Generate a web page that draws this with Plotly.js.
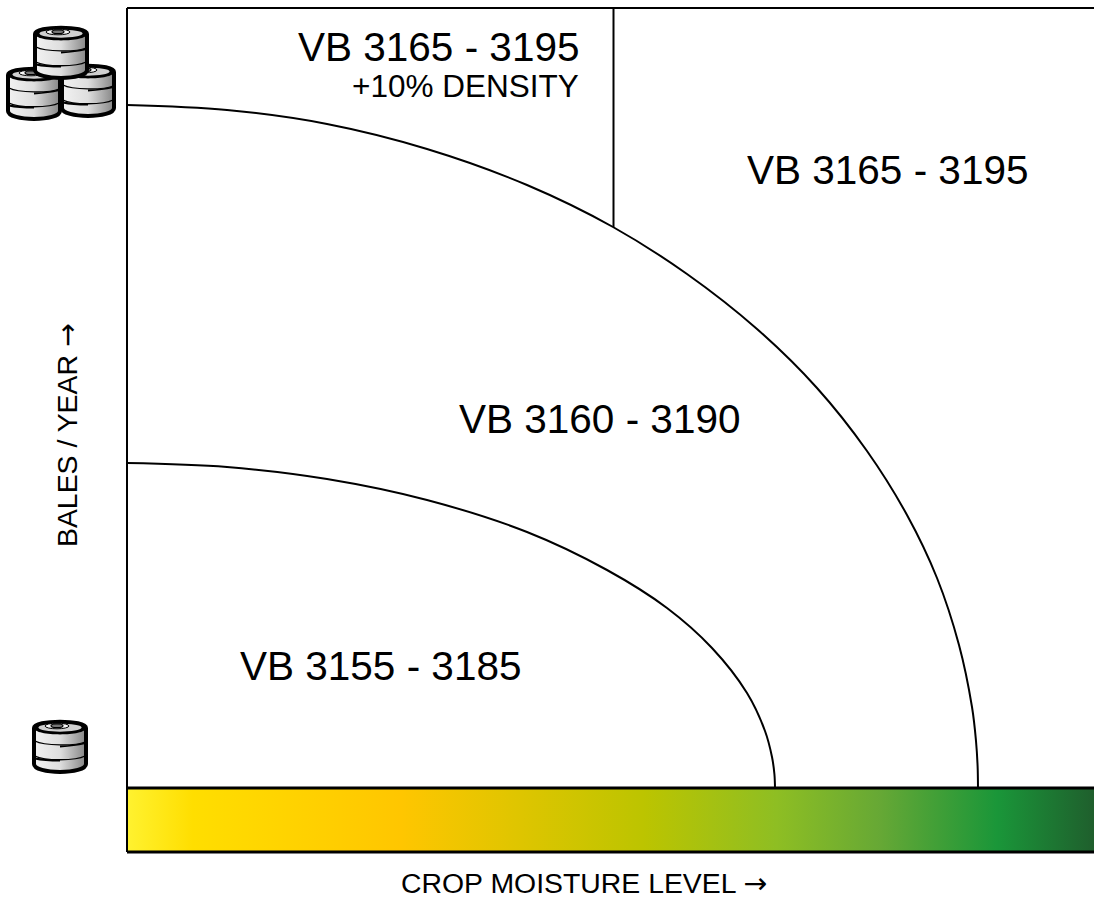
<!DOCTYPE html>
<html>
<head>
<meta charset="utf-8">
<script src="https://cdn.plot.ly/plotly-3.0.0.min.js"></script>
<style>html,body{margin:0;padding:0;background:#fff}#chart{width:1094px;height:898px}</style>
</head>
<body>
<div id="chart"></div>
<script>
// Boundary curves (x: moisture units, y: bales/year units)
const outerX = [0, 100, 200, 300, 400, 486, 560, 630, 690, 740, 780, 810, 832, 845, 849, 850.6, 851];
const outerY = [683, 678, 664, 639, 603, 561, 514, 459, 400, 337, 273, 210, 143, 81, 47, 22, 0];
const innerX = [0, 100, 200, 300, 400, 480, 540, 585, 620, 638, 645, 647.4, 648];
const innerY = [325, 321, 309, 288, 256, 218, 180, 140, 95, 57, 31, 14, 0];
const dividerX = [486.5, 486.5];
const dividerY = [561, 780];
const barX = [0, 967, 967, 0, 0];
const barY = [-64, -64, 0, 0, -64];
const gradientStops = [0, 0.068, 0.283, 0.535, 0.672, 0.779, 0.900, 1];
const gradientColors = ['#FFF230', '#FFDE00', '#FFC600', '#BCC400', '#8EBE23', '#66A835', '#1A9639', '#1F5F2D'];
const regionLabels = ['VB 3165 - 3195', '+10% DENSITY', 'VB 3165 - 3195', 'VB 3160 - 3190', 'VB 3155 - 3185'];
const arrow = '<span style="font-family:DejaVu Sans">→</span>';
const xTitle = 'CROP MOISTURE LEVEL ' + arrow;
const yTitle = 'BALES / YEAR ' + arrow;

const FONT = '"Liberation Sans", Arial, sans-serif';
const W = 967, H = 844;

function barrel(x, y) {
  return `<g transform="translate(${x} ${y})">
    <path d="M2 10 C2 1.5 54 1.5 54 10 L54 46 C54 56.5 2 56.5 2 46 Z" fill="url(#g)" stroke="#000" stroke-width="4"/>
    <path d="M2 10 C2 1.5 54 1.5 54 10 C54 18.5 2 18.5 2 10 Z" fill="#000"/>
    <path d="M6.5 9.5 C6.5 4.5 49.5 4.5 49.5 9.5 C49.5 15 6.5 15 6.5 9.5 Z" fill="#d0d0d0"/>
    <ellipse cx="25" cy="8" rx="12" ry="2.8" fill="#f6f6f6" stroke="#000" stroke-width="1"/>
    <ellipse cx="25" cy="7.8" rx="6" ry="1.9" fill="#777" stroke="#000" stroke-width="1.2"/>
    <path d="M3 23 C12 28 44 28 53 24 M3 38 C12 43 44 43 53 38" fill="none" stroke="#000" stroke-width="1.3"/>
    <path d="M28 28.5 C37 28 46 27 52 25.5 M3 40.5 C10 42 18 42.5 28 42.5" fill="none" stroke="#000" stroke-width="1.8"/>
  </g>`;
}
function svgUri(w, h, body) {
  const s = `<svg xmlns="http://www.w3.org/2000/svg" width="${w}" height="${h}" viewBox="0 0 ${w} ${h}">
    <defs><linearGradient id="g" x1="0" x2="1" y1="0" y2="0">
    <stop offset="0" stop-color="#f2f2f2"/><stop offset="0.5" stop-color="#dedede"/><stop offset="1" stop-color="#858585"/>
    </linearGradient></defs>${body}</svg>`;
  return 'data:image/svg+xml;base64,' + btoa(s);
}
function pxImage(uri, left, top, w, h) {
  return {source: uri, xref: 'paper', yref: 'paper', xanchor: 'left', yanchor: 'top',
    x: (left - 127) / W, y: (852 - top) / H, sizex: w / W, sizey: h / H, sizing: 'stretch', layer: 'above'};
}
const stackUri = svgUri(110, 98, barrel(54, 38) + barrel(0, 41) + barrel(27, 0));
const singleUri = svgUri(56, 58, barrel(0, 0));

const traces = [
  {x: barX, y: barY, type: 'scatter', mode: 'lines', fill: 'toself', hoverinfo: 'skip',
   fillgradient: {type: 'horizontal', colorscale: gradientStops.map((s, i) => [s, gradientColors[i]])},
   line: {color: 'rgba(0,0,0,0)', width: 0}},
  {x: outerX, y: outerY, type: 'scatter', mode: 'lines', line: {color: '#000', width: 2, shape: 'spline', smoothing: 1}},
  {x: innerX, y: innerY, type: 'scatter', mode: 'lines', line: {color: '#000', width: 2, shape: 'spline', smoothing: 1}},
  {x: dividerX, y: dividerY, type: 'scatter', mode: 'lines', line: {color: '#000', width: 2}}
];
const ann = (text, x, y, size, anchor) => ({text, x, y, xref: 'x', yref: 'y', showarrow: false,
  xanchor: anchor, yanchor: 'middle', font: {family: FONT, size, color: '#000'}});
const layout = {
  width: 1094, height: 898, showlegend: false,
  margin: {l: 127, r: 0, t: 8, b: 46, pad: 0},
  paper_bgcolor: '#fff', plot_bgcolor: '#fff',
  xaxis: {range: [0, 967], showgrid: false, zeroline: false, showticklabels: false, ticks: '',
          showline: false, fixedrange: true},
  yaxis: {range: [-64, 780], showgrid: false, zeroline: false, showticklabels: false, ticks: '',
          showline: false, fixedrange: true},
  shapes: [
    {type: 'line', xref: 'paper', yref: 'paper', x0: 0, x1: 0, y0: 0, y1: 1, line: {color: '#000', width: 2}},
    {type: 'line', xref: 'paper', yref: 'paper', x0: 0, x1: 1, y0: 1, y1: 1, line: {color: '#000', width: 2}},
    {type: 'line', xref: 'paper', yref: 'y', x0: 0, x1: 1, y0: 0, y1: 0, line: {color: '#000', width: 3}},
    {type: 'line', xref: 'paper', yref: 'paper', x0: 0, x1: 1, y0: 0, y1: 0, line: {color: '#000', width: 3}}
  ],
  annotations: [
    ann(regionLabels[0], 454, 741, 40.5, 'right'),
    ann(regionLabels[1], 454, 702, 31.5, 'right'),
    ann(regionLabels[2], 760, 618, 40.5, 'center'),
    ann(regionLabels[3], 472, 369, 40.5, 'center'),
    ann(regionLabels[4], 253, 122, 40.5, 'center'),
    {text: xTitle, xref: 'paper', yref: 'paper', x: (584 - 127) / W, y: (852 - 883) / H, showarrow: false, height: 28,
     xanchor: 'center', yanchor: 'middle', font: {family: FONT, size: 28.4, color: '#000'}},
    {text: yTitle, xref: 'paper', yref: 'paper', x: (67 - 127) / W, y: (852 - 435) / H, showarrow: false, textangle: -90,
     xanchor: 'center', yanchor: 'middle', font: {family: FONT, size: 28.4, color: '#000'}}
  ],
  images: [pxImage(stackUri, 6, 24, 110, 98), pxImage(singleUri, 32, 718, 56, 58)]
};
Plotly.newPlot('chart', traces, layout, {displayModeBar: false, staticPlot: true});
</script>
</body>
</html>
